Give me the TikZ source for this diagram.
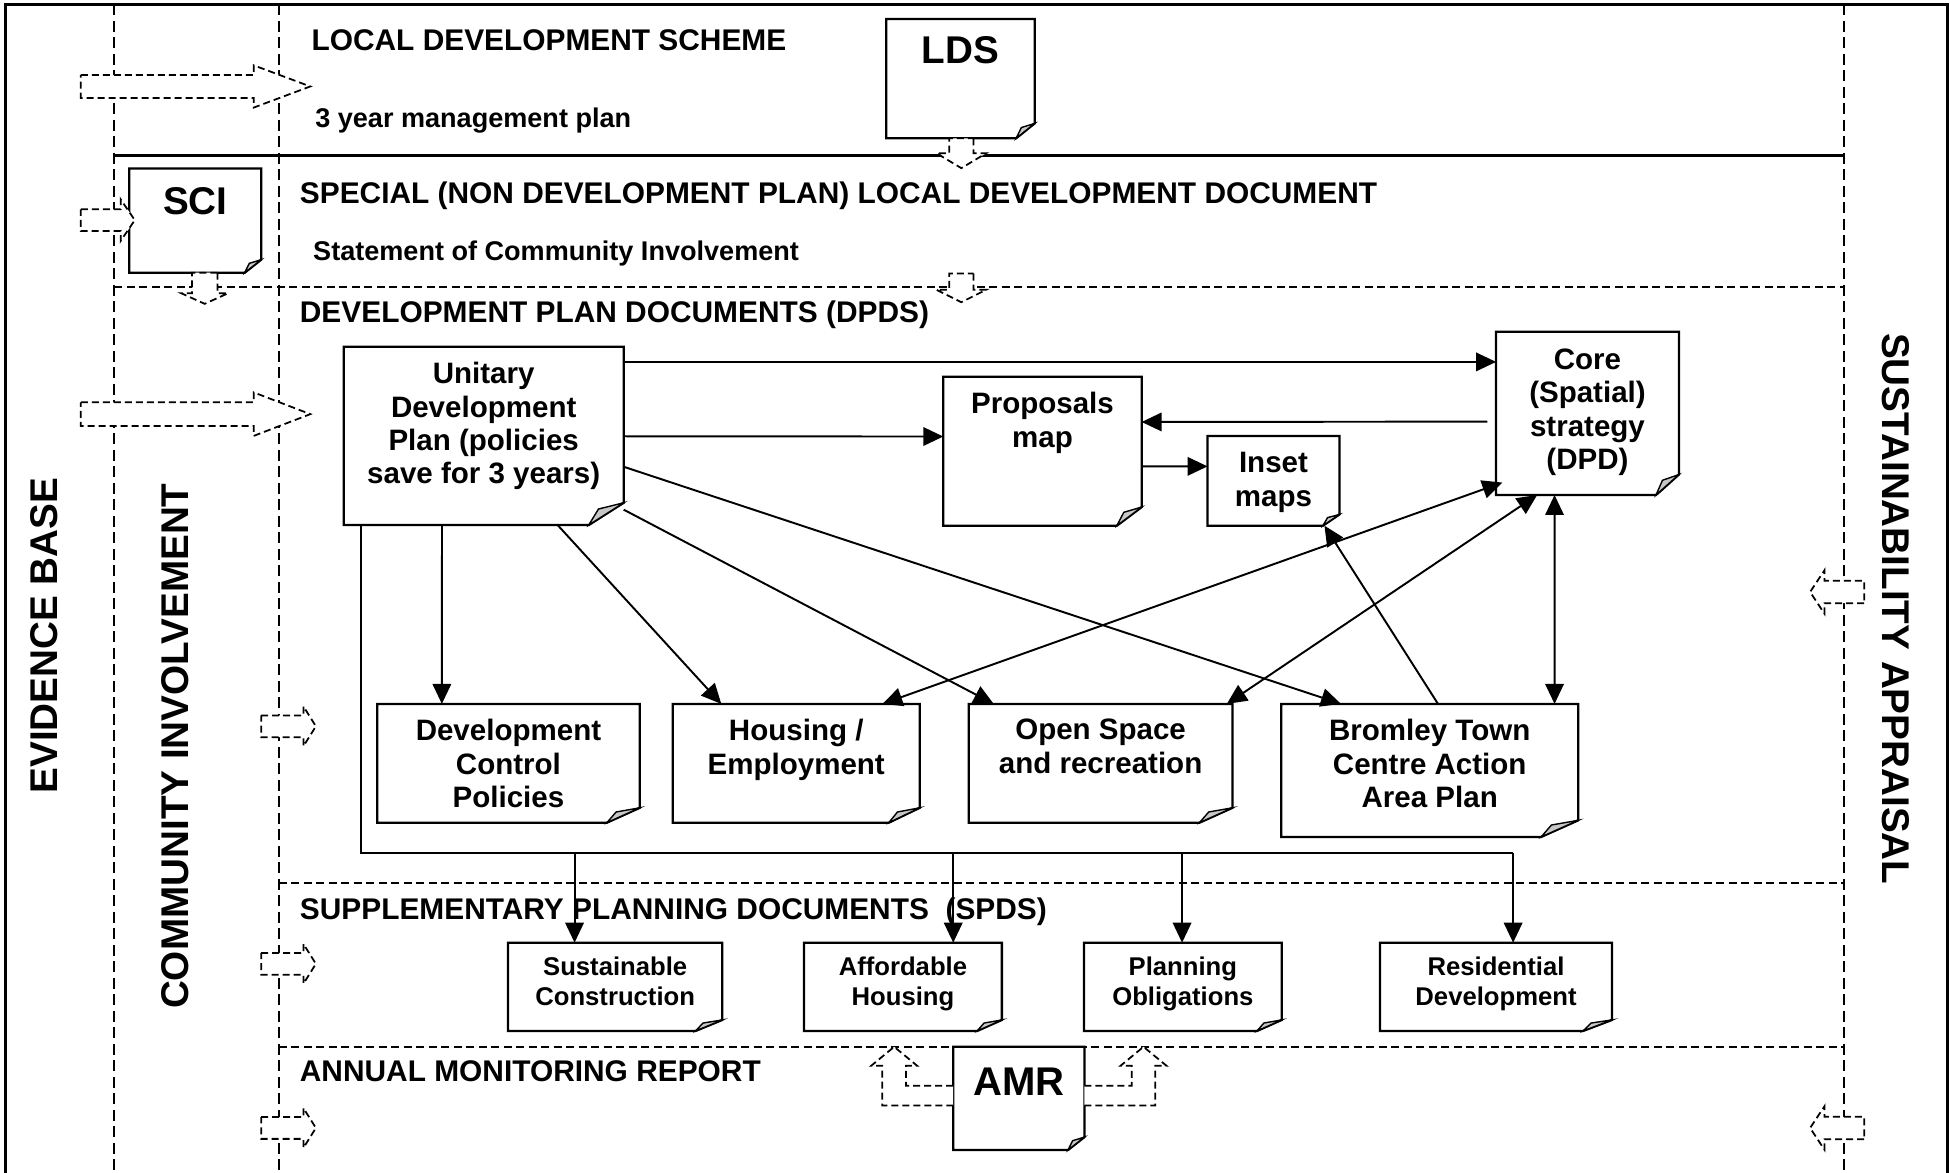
\documentclass[tikz,border=0pt]{standalone}
\usepackage{fontspec}
\setmainfont{Liberation Sans}
\usetikzlibrary{arrows.meta,positioning,calc,fit}

\newcommand{\titlefont}{\fontsize{8.5}{10}\selectfont\bfseries}
\newcommand{\subfont}{\fontsize{7.7}{9}\selectfont\bfseries}
\newcommand{\boxfont}{\fontsize{8.4}{9.48}\selectfont\bfseries}
\newcommand{\spdfont}{\fontsize{7.3}{8.49}\selectfont\bfseries}
\newcommand{\bigfont}{\fontsize{11}{13}\selectfont\bfseries}

\tikzset{
  pics/hollow/.style n args={4}{code={
    \draw[hollowline] (0,-#3) -- ({#1-#2},-#3) -- ({#1-#2},-#4) -- (#1,0)
      -- ({#1-#2},#4) -- ({#1-#2},#3) -- (0,#3) -- cycle;
  }}
}

\begin{document}
\begin{tikzpicture}[x=0.12436mm, y=-0.12436mm,
  frame/.style={line width=0.7pt},
  vsep/.style={line width=0.6pt, dash pattern=on 1.1mm off 0.55mm},
  hsep/.style={line width=0.6pt, dash pattern=on 0.8mm off 0.45mm},
  hollowline/.style={line width=0.5pt, dash pattern=on 0.7mm off 0.4mm, fill=white},
  docfit/.style={inner sep=0pt, outer sep=0pt},
  docline/.style={line width=0.65pt},
  doctext/.style={anchor=north, inner sep=0pt, align=center, font=\boxfont},
  spdtext/.style={doctext, font=\spdfont},
  bigtext/.style={doctext, font=\bigfont},
  title/.style={anchor=base west, inner sep=0pt, font=\titlefont},
  subtitle/.style={title, font=\subfont},
  side/.style={inner sep=0pt, font=\bigfont},
  conn/.style={line width=0.55pt},
  arr/.style={conn, -{Triangle[length=2mm, width=1.85mm]}},
  dbl/.style={conn, {Triangle[length=2mm, width=1.85mm]}-{Triangle[length=2mm, width=1.85mm]}},
]
\useasboundingbox (0,0) rectangle (1568,943);
\clip (0,0) rectangle (1568,943);

% frame and lanes
\draw[frame] (4.5,950) |- (1566,3.5) -- (1566,950);
\foreach \x in {92,224,1483} \draw[vsep] (\x,3.5) -- (\x,950);
\draw[docline] (92,125) -- (1483,125);
\draw[hsep] (92,231) -- (1483,231);
\foreach \y in {710,841.7} \draw[hsep] (224,\y) -- (1483,\y);

% lane titles
\node[title] (lds-head) at (250,40.2) {LOCAL DEVELOPMENT SCHEME};
\node[subtitle] (lds-sub) at (253,102.4) {3 year management plan};
\node[title] (sci-head) at (240.6,164) {SPECIAL (NON DEVELOPMENT PLAN) LOCAL DEVELOPMENT DOCUMENT};
\node[subtitle] (sci-sub) at (251.3,209.6) {Statement of Community Involvement};
\node[title] (dpd-head) at (240.6,259.5) {DEVELOPMENT PLAN DOCUMENTS (DPDS)};
\node[title] (spd-head) at (240.6,739) {SUPPLEMENTARY PLANNING DOCUMENTS\ \ (SPDS)};
\node[title] (amr-head) at (240.6,870) {ANNUAL MONITORING REPORT};

\node[side, rotate=90] (evid) at (35.5,511) {EVIDENCE BASE};
\node[side, rotate=90] (comm) at (140.5,600) {COMMUNITY INVOLVEMENT};
\node[side, rotate=-90] (sapp) at (1524.3,489.5) {SUSTAINABILITY APPRAISAL};

% documents
\node[docfit, fit={(712.6,15.3)(832,111.2)}] (lds) {};
\node[docfit, fit={(104,135.4)(210,219.3)}] (sci) {};
\node[docfit, fit={(276.4,278.8)(501.5,422.2)}] (udp) {};
\node[docfit, fit={(758.5,303)(918,422.7)}] (prop) {};
\node[docfit, fit={(971,350.6)(1077,422.7)}] (inset) {};
\node[docfit, fit={(1203,266.7)(1350,398)}] (core) {};
\node[docfit, fit={(303.3,566)(514.4,661.5)}] (dcp) {};
\node[docfit, fit={(541,566)(739.5,661.5)}] (hous) {};
\node[docfit, fit={(779,566)(991,661.5)}] (open) {};
\node[docfit, fit={(1030.3,566)(1269,673)}] (brom) {};
\node[docfit, fit={(408.5,758)(580.8,829)}] (sust) {};
\node[docfit, fit={(646.5,758)(805.6,829)}] (aff) {};
\node[docfit, fit={(871.7,758)(1030.6,829)}] (plan) {};
\node[docfit, fit={(1109.7,758)(1296.2,829)}] (res) {};
\node[docfit, fit={(766.5,841.7)(872,924.7)}] (amr) {};

\foreach \n in {lds,sci,udp,prop,inset,core,dcp,hous,open,brom,sust,aff,plan,res,amr} {
  \draw[docline, fill=white] (\n.north west) -- (\n.north east)
    -- ($(\n.south east)!0.125!(\n.north east)$)
    -- ($(\n.south east)!0.125!(\n.south west)$) -- (\n.south west) -- cycle;
  \filldraw[line width=0.4pt, fill=black!22]
    ($(\n.south east)!0.125!(\n.north east)$)
    -- ($(\n.south east)!0.125!(\n.south west)$)
    -- ($(\n.south east)!0.09!(\n.north west)$) -- cycle;
}

\node[bigtext] (lds-t) at ($(lds.north)+(0,13.5)$) {LDS};
\node[bigtext] (sci-t) at ($(sci.north)+(0,15)$) {SCI};
\node[bigtext, font=\fontsize{11.4}{13}\selectfont\bfseries] (amr-t) at ($(amr.north)+(0,16.5)$) {AMR};
\node[doctext] (udp-t) at ($(udp.north)+(0,12)$) {Unitary\\Development\\Plan (policies\\save for 3 years)};
\node[doctext] (prop-t) at ($(prop.north)+(0,12)$) {Proposals\\map};
\node[doctext] (inset-t) at ($(inset.north)+(0,12.8)$) {Inset\\maps};
\node[doctext] (core-t) at ($(core.north)+(0,13.2)$) {Core\\(Spatial)\\strategy\\(DPD)};
\node[doctext] (dcp-t) at ($(dcp.north)+(0,11.8)$) {Development\\Control\\Policies};
\node[doctext] (hous-t) at ($(hous.north)+(0,11.8)$) {Housing /\\Employment};
\node[doctext] (open-t) at ($(open.north)+(0,11.8)$) {Open Space\\and recreation};
\node[doctext] (brom-t) at ($(brom.north)+(0,11.8)$) {Bromley Town\\Centre Action\\Area Plan};
\node[spdtext] (sust-t) at ($(sust.north)+(0,11)$) {Sustainable\\Construction};
\node[spdtext] (aff-t) at ($(aff.north)+(0,11)$) {Affordable\\Housing};
\node[spdtext] (plan-t) at ($(plan.north)+(0,11)$) {Planning\\Obligations};
\node[spdtext] (res-t) at ($(res.north)+(0,11)$) {Residential\\Development};

% links between the plan documents
\draw[arr] ($(udp.north east)+(0,12.2)$) -- ($(core.north west)+(0,24.3)$);
\draw[arr] ($(udp.north east)+(0,72)$) -- ($(prop.north west)+(0,48)$);
\draw[arr] ($(core.north west)+(-7,72.3)$) -- ($(prop.north east)+(0,36.3)$);
\draw[arr] ($(prop.north east)+(0,72)$) -- ($(inset.north west)+(0,24.4)$);
\draw[arr] ($(udp.south west)+(79,0)$) -- ($(dcp.north west)+(52,0)$);
\draw[arr] ($(udp.south west)+(172,0)$) -- ($(hous.north west)+(39,0)$);
\draw[arr] ($(udp.north east)+(0,131)$) -- ($(open.north west)+(20,0)$);
\draw[arr] ($(udp.north east)+(0,96.5)$) -- ($(brom.north west)+(48,0)$);
\draw[dbl] ($(hous.north east)+(-30,0)$) -- ($(core.south west)+(5,-10)$);
\draw[dbl] ($(open.north east)+(-4.5,0)$) -- ($(core.south west)+(33,0)$);
\draw[arr] ($(brom.north west)+(126,0)$) -- ($(inset.south east)+(-12,0)$);
\draw[dbl] ($(core.south west)+(47,0)$) -- ($(brom.north west)+(219.7,0)$);

% bus down to the SPDs
\coordinate (bus) at (290,686);
\foreach \s/\x in {sust/462,aff/766.5,plan/950.5,res/1216.7} \coordinate (j-\s) at (\x,686);
\draw[conn] (bus |- udp.south) -- (bus) -- (j-res);
\foreach \s in {sust,aff,plan,res} \draw[arr] (j-\s) -- (j-\s |- \s.north);

% hollow dashed arrows
\pic at (65,69.5) {hollow={184.5}{45.5}{9.25}{17}};
\pic at (65,333) {hollow={184.5}{45.5}{9.5}{17.5}};
\pic at (65,177) {hollow={43.4}{11.4}{8.75}{16.75}};
\foreach \y in {584,775,907} \pic at (210,\y) {hollow={44}{10}{8.75}{16}};
\foreach \y in {476,907} \pic[rotate=180] at (1499,\y) {hollow={43.5}{11.5}{9}{17.4}};
\pic[rotate=-90] at (773,111.2) {hollow={24}{12}{9.8}{20}};
\pic[rotate=-90] at (773,220) {hollow={23}{10}{9.8}{20}};
\pic[rotate=-90] at (164.6,219.3) {hollow={25}{8.5}{10.2}{18.8}};
\foreach \s in {-1,1}
  \draw[hollowline, shift={(amr.center)}, xscale=\s] (52.75,-10.2) -- (90.75,-10.2)
    -- (90.75,-26.2) -- (81.75,-26.2) -- (100.25,-41.5) -- (118.75,-26.2)
    -- (109.75,-26.2) -- (109.75,5.8) -- (52.75,5.8);
\end{tikzpicture}
\end{document}
